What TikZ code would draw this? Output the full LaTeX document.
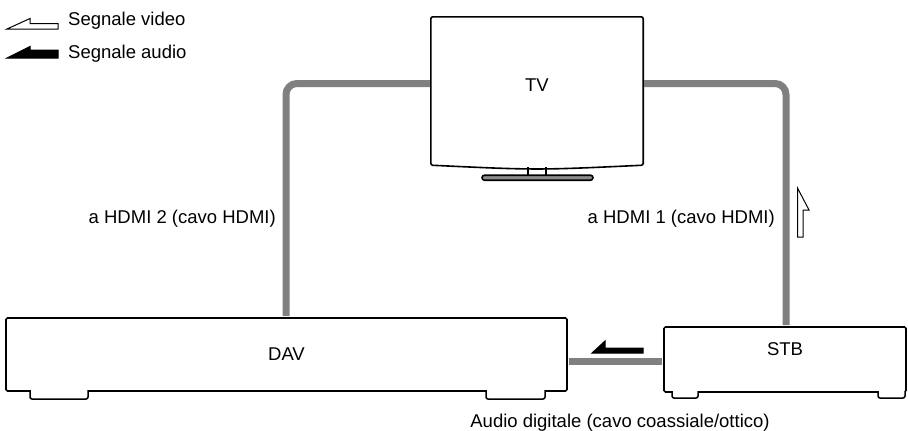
\documentclass[tikz,border=0pt]{standalone}
\usepackage{fontspec}
\setmainfont{Liberation Sans}
\begin{document}
\begin{tikzpicture}[x=1pt, y=-1pt,
    box/.style={draw, line width=1.6pt, rounded corners=1.5pt, inner sep=0pt},
    lbl/.style={font=\fontsize{18.5}{22}\selectfont, inner sep=0pt},
    cable/.style={draw=black!50, line width=7pt, rounded corners=11pt},
    foot/.style={draw, line width=1.5pt, fill=white, rounded corners=2pt},
    harrow/.style={draw, line width=1pt, line join=miter}
  ]
  \useasboundingbox (0,0) rectangle (908,431);
  \node[box, lbl, minimum width=561pt, minimum height=73pt] (dav) at (286.5,354.5) {DAV};
  \node[box, minimum width=242pt, minimum height=65pt, label={[lbl, yshift=10pt]center:STB}] (stb) at (785,359.5) {};
  \node[inner sep=0pt, minimum width=212pt, minimum height=148pt, label={[lbl, yshift=6pt]center:TV}] (tv) at (537,91) {};
  \draw[line width=1.6pt, rounded corners=2pt] (tv.south east) -- (tv.north east) -- (tv.north west) -- (tv.south west)
    .. controls ([yshift=-5pt]tv.south) .. (tv.south east) -- cycle;
  \draw[line width=1.4pt] ([xshift=-9pt]tv.south) ++(0,2) -- ++(0,8) ([xshift=9pt]tv.south) ++(0,2) -- ++(0,8);
  \draw[line width=1.6pt, fill=black!45, rounded corners=2.5pt] ([xshift=-55pt]tv.south) ++(0,10) rectangle ++(111,5);
  \foreach \a/\b in {30/88,486/545} {
    \draw[foot] (\a,390) -- (\a,399) -- (\b,399) -- (\b,390);
  }
  \foreach \a/\b in {672/698,878/905} {
    \draw[foot] (\a,391) -- (\a,398) -- (\b,398) -- (\b,391);
  }
  \coordinate (hl) at (286,0);
  \coordinate (hr) at (786,0);
  \coordinate (ac) at (0,361);
  \draw[cable, shorten <=1pt, shorten >=1pt] ([yshift=7.5pt]tv.west) -| (dav.north -| hl);
  \draw[cable, shorten <=1pt, shorten >=1pt] ([yshift=7.5pt]tv.east) -| (stb.north -| hr);
  \draw[cable, rounded corners=0pt, shorten <=1pt, shorten >=1pt] (dav.east |- ac) -- (stb.west |- ac);
  \draw[harrow, fill=white] (7,29) -- (30,18.5) -- (30,23.5) -- (58,23.5) -- (58,29) -- cycle;
  \draw[harrow, fill=black] (7,58) -- (30,46.5) -- (30,50) -- (58,50) -- (58,58) -- cycle;
  \draw[harrow, fill=black] (592,353) -- (605,341) -- (605,348) -- (643,348) -- (643,353) -- cycle;
  \draw[harrow, fill=white] (797.5,188) -- (809,210) -- (803,210) -- (803,237) -- (797.5,237) -- cycle;
  \node[lbl, anchor=base west] (video) at (68,25) {Segnale video};
  \node[lbl, anchor=base west] (audio) at (68,58) {Segnale audio};
  \node[lbl, anchor=base east] (hdmi2) at (276,223) {a HDMI 2 (cavo HDMI)};
  \node[lbl, anchor=base east] (hdmi1) at (775,223) {a HDMI 1 (cavo HDMI)};
  \node[lbl, anchor=base] (digit) at (620,427) {Audio digitale (cavo coassiale/ottico)};
\end{tikzpicture}
\end{document}
